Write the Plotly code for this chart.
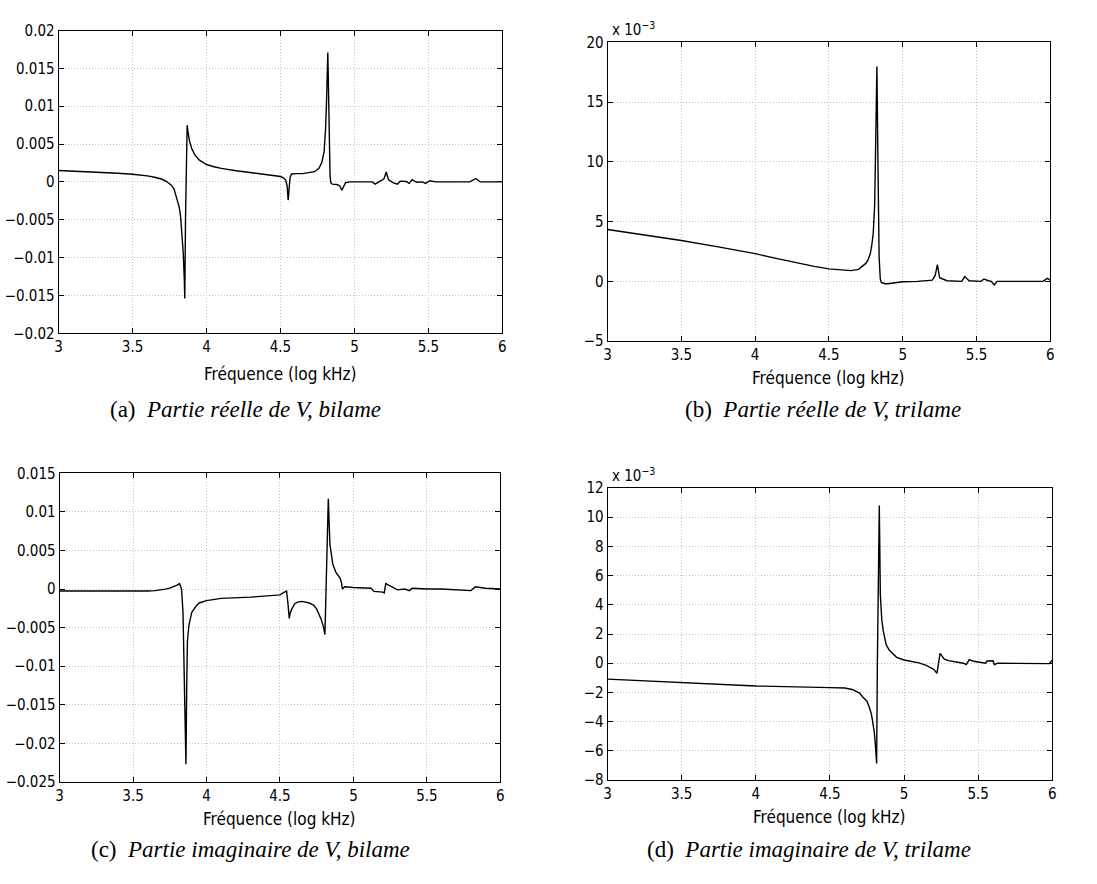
import plotly.graph_objects as go

# ---------------- data ----------------
# (a) Partie réelle de V, bilame
xa = [3.00, 3.20, 3.40, 3.50, 3.55, 3.60, 3.65, 3.70, 3.73, 3.76, 3.78, 3.80, 3.815, 3.825, 3.835, 3.843,
      3.850, 3.853, 3.858, 3.864, 3.869, 3.875, 3.885, 3.90, 3.92, 3.95, 4.00, 4.05, 4.10, 4.20,
      4.30, 4.40, 4.45, 4.50, 4.52, 4.535, 4.545, 4.552, 4.558, 4.565, 4.575, 4.60, 4.65, 4.70,
      4.73, 4.76, 4.78, 4.795, 4.805, 4.812, 4.818, 4.820, 4.825, 4.830, 4.835, 4.840, 4.85, 4.88,
      4.90, 4.915, 4.925, 4.94, 4.97, 5.05, 5.12, 5.14, 5.17, 5.20, 5.215, 5.23, 5.26, 5.29, 5.31,
      5.35, 5.37, 5.39, 5.42, 5.46, 5.48, 5.51, 5.55, 5.78, 5.82, 5.85, 6.00]
ya_e3 = [1.50, 1.35, 1.15, 1.02, 0.93, 0.80, 0.62, 0.35, 0.05, -0.40, -0.90, -2.2, -3.3, -4.6, -6.8, -9.5,
         -13.0, -15.4, -5.0, 3.0, 7.5, 6.6, 5.4, 4.4, 3.6, 2.9, 2.3, 2.0, 1.78, 1.48,
         1.23, 1.00, 0.88, 0.72, 0.55, 0.25, -0.5, -2.4, -1.0, 0.6, 1.05, 1.10, 1.10, 1.20,
         1.35, 1.8, 2.6, 4.0, 7.0, 11.0, 16.0, 17.1, 12.0, 5.0, 1.0, -0.1, -0.3, -0.35,
         -0.5, -1.1, -0.7, -0.1, 0.0, 0.0, 0.0, -0.3, 0.0, 0.4, 1.3, 0.3, -0.1, -0.3, 0.1,
         0.05, -0.2, 0.3, -0.05, 0.0, -0.2, 0.15, 0.0, 0.0, 0.45, 0.0, 0.0]

# (b) Partie réelle de V, trilame  (x 10^-3)
xb = [3.00, 3.25, 3.50, 3.75, 4.00, 4.15, 4.30, 4.40, 4.50, 4.60, 4.65, 4.70, 4.75, 4.765, 4.78, 4.79,
      4.80, 4.81, 4.818, 4.825, 4.832, 4.840, 4.848, 4.855, 4.88, 4.90, 5.00, 5.10, 5.20, 5.22, 5.235,
      5.25, 5.30, 5.40, 5.42, 5.45, 5.53, 5.55, 5.58, 5.60, 5.62, 5.64, 5.80, 5.95, 5.98, 6.00]
yb = [4.34, 3.88, 3.42, 2.88, 2.32, 1.90, 1.50, 1.25, 1.04, 0.93, 0.90, 1.00, 1.50, 1.8, 2.30, 3.0,
      4.0, 6.4, 12.0, 17.98, 10.0, 2.0, 0.2, -0.1, -0.2, -0.2, -0.03, 0.0, 0.1, 0.5, 1.4,
      0.3, 0.05, 0.0, 0.4, 0.05, 0.0, 0.2, 0.05, 0.0, -0.3, 0.0, 0.0, 0.0, 0.25, 0.1]

# (c) Partie imaginaire de V, bilame
xc = [3.00, 3.50, 3.60, 3.65, 3.70, 3.72, 3.75, 3.78, 3.80, 3.817, 3.83, 3.84, 3.85, 3.86, 3.865,
      3.87, 3.88, 3.90, 3.93, 3.95, 4.00, 4.05, 4.10, 4.30, 4.50, 4.53, 4.545, 4.555, 4.563, 4.57,
      4.58, 4.60, 4.62, 4.65, 4.70, 4.73, 4.75, 4.78, 4.795, 4.806,
      4.815, 4.822, 4.829, 4.84, 4.86, 4.88, 4.90, 4.91, 4.92, 4.925, 4.94, 5.00, 5.12, 5.14, 5.20,
      5.21, 5.22, 5.25, 5.28, 5.30, 5.35, 5.38, 5.40, 5.50, 5.60, 5.80, 5.83, 5.90, 6.00]
yc = [-0.00025, -0.0003, -0.00025, -0.0002, -0.0001, 0.0, 0.00013, 0.0003, 0.0005, 0.0007, 0.0,
      -0.003, -0.013, -0.0227, -0.013, -0.0068, -0.0047, -0.003, -0.0022, -0.0018, -0.0015,
      -0.00135, -0.0012, -0.00105, -0.00075, -0.0004, -0.00025, -0.002, -0.0038, -0.0031,
      -0.0026, -0.0019, -0.0017, -0.0016, -0.0018, -0.0021, -0.0026, -0.0039, -0.0048, -0.0059,
      0.0, 0.007, 0.0117, 0.0058, 0.0032, 0.0022, 0.0016, 0.0014, 0.0007, 0.0, 0.0003, 0.0002,
      0.0001, -0.0003, -0.0004, -0.0005, 0.0007, 0.0004, 0.0002, -0.0001, 0.0, -0.0002, 0.0001,
      0.0, 0.0, -0.0002, 0.0003, 0.0001, 0.0]

# (d) Partie imaginaire de V, trilame  (x 10^-3)
xd = [3.00, 3.50, 4.00, 4.50, 4.60, 4.65, 4.70, 4.72, 4.75, 4.765, 4.78, 4.79, 4.80, 4.808, 4.815,
      4.820, 4.826, 4.833, 4.84, 4.845, 4.85, 4.86, 4.87, 4.88, 4.90, 4.93, 4.95, 5.00, 5.10, 5.15,
      5.20, 5.222, 5.232, 5.243, 5.27, 5.30, 5.40, 5.42, 5.44, 5.47, 5.55, 5.56, 5.60, 5.61, 5.63,
      5.95, 5.98, 6.00]
yd = [-1.09, -1.33, -1.56, -1.67, -1.70, -1.80, -2.05, -2.3, -2.6, -3.0, -3.5, -4.1, -4.8, -5.8,
      -6.87, 0.0, 6.0, 10.8, 4.7, 3.7, 2.95, 2.2, 1.6, 1.25, 0.9, 0.6, 0.4, 0.22, 0.02, -0.15,
      -0.42, -0.7, 0.0, 0.67, 0.3, 0.18, 0.0, -0.1, 0.25, 0.13, 0.0, 0.15, 0.17, -0.1, 0.0,
      0.0, -0.03, 0.2]

x_ticks = [3, 3.5, 4, 4.5, 5, 5.5, 6]
x_ticktext = ["3", "3.5", "4", "4.5", "5", "5.5", "6"]
ya_ticks = [-0.02, -0.015, -0.01, -0.005, 0, 0.005, 0.01, 0.015, 0.02]
ya_text = ["\u22120.02", "\u22120.015", "\u22120.01", "\u22120.005", "0", "0.005", "0.01", "0.015", "0.02"]
yb_ticks = [-5, 0, 5, 10, 15, 20]
yb_text = ["\u22125", "0", "5", "10", "15", "20"]
yc_ticks = [-0.025, -0.02, -0.015, -0.01, -0.005, 0, 0.005, 0.01, 0.015]
yc_text = ["\u22120.025", "\u22120.02", "\u22120.015", "\u22120.01", "\u22120.005", "0", "0.005", "0.01", "0.015"]
yd_ticks = [-8, -6, -4, -2, 0, 2, 4, 6, 8, 10, 12]
yd_text = ["\u22128", "\u22126", "\u22124", "\u22122", "0", "2", "4", "6", "8", "10", "12"]

x_title = "Fréquence (log kHz)"
captions = ["(a)  <i>Partie réelle de V, bilame</i>",
            "(b)  <i>Partie réelle de V, trilame</i>",
            "(c)  <i>Partie imaginaire de V, bilame</i>",
            "(d)  <i>Partie imaginaire de V, trilame</i>"]
exp_label = "x 10<sup>\u22123</sup>"

# ---------------- figure ----------------
W, H = 1097, 884
TICKFONT = dict(family="Liberation Sans Narrow, DejaVu Sans Condensed, Arial Narrow, sans-serif",
                size=15, color="black")
CAPFONT = dict(family="Liberation Serif, DejaVu Serif, serif", size=23, color="black")

def fx(px):
    return px / W

def fy(py):
    return 1 - py / H

# pixel boxes: left, right, top, bottom
boxes = [(55, 502, 22, 331), (608, 1054, 34, 339), (56, 500, 474, 789), (608, 1056, 489, 787)]
yranges = [(-0.02, 0.02), (-5, 20), (-0.025, 0.015), (-8, 12)]
yticks = [(ya_ticks, ya_text), (yb_ticks, yb_text), (yc_ticks, yc_text), (yd_ticks, yd_text)]
series = [(xa, [v * 1e-3 for v in ya_e3]), (xb, yb), (xc, yc), (xd, yd)]

fig = go.Figure()
layout = dict(width=W, height=H, margin=dict(l=0, r=0, t=0, b=0),
              paper_bgcolor="white", plot_bgcolor="white", showlegend=False,
              annotations=[])

for i, ((l, r, t, b), (xs, ys), yr, (tv, tt)) in enumerate(zip(boxes, series, yranges, yticks)):
    n = "" if i == 0 else str(i + 1)
    fig.add_trace(go.Scatter(x=xs, y=ys, mode="lines", xaxis="x" + n, yaxis="y" + n,
                             line=dict(color="black", width=1.4), hoverinfo="skip"))
    common = dict(showline=True, linecolor="black", linewidth=1, mirror="ticks",
                  ticks="inside", ticklen=5, tickcolor="black", tickwidth=1,
                  showgrid=True, gridcolor="#c4c4c4", griddash="1px,2px", gridwidth=1,
                  zeroline=False, tickfont=TICKFONT)
    layout["xaxis" + n] = dict(common, domain=[fx(l), fx(r)], range=[3, 6], anchor="y" + n,
                               tickvals=x_ticks, ticktext=x_ticktext)
    layout["yaxis" + n] = dict(common, domain=[fy(b), fy(t)], range=list(yr), anchor="x" + n,
                               tickvals=tv, ticktext=tt)
    # x axis title
    layout["annotations"].append(dict(text=x_title, xref="paper", yref="paper",
                                      x=fx((l + r) / 2), y=fy(b + 42 if i == 0 else b + 38),
                                      xanchor="center", yanchor="middle", showarrow=False,
                                      font=dict(TICKFONT, size=17)))

# exponent labels
layout["annotations"].append(dict(text=exp_label, xref="paper", yref="paper", x=fx(610), y=fy(33),
                                  xanchor="left", yanchor="bottom", showarrow=False, font=TICKFONT))
layout["annotations"].append(dict(text=exp_label, xref="paper", yref="paper", x=fx(610), y=fy(488),
                                  xanchor="left", yanchor="bottom", showarrow=False, font=TICKFONT))

# captions
cap_pos = [(243, 409), (825, 409), (248, 858), (811, 858)]
for txt, (cx, cy) in zip(captions, cap_pos):
    layout["annotations"].append(dict(text=txt, xref="paper", yref="paper", x=fx(cx), y=fy(cy),
                                      xanchor="center", yanchor="middle", showarrow=False,
                                      font=CAPFONT))

fig.update_layout(layout)
fig.write_html("out.html")
